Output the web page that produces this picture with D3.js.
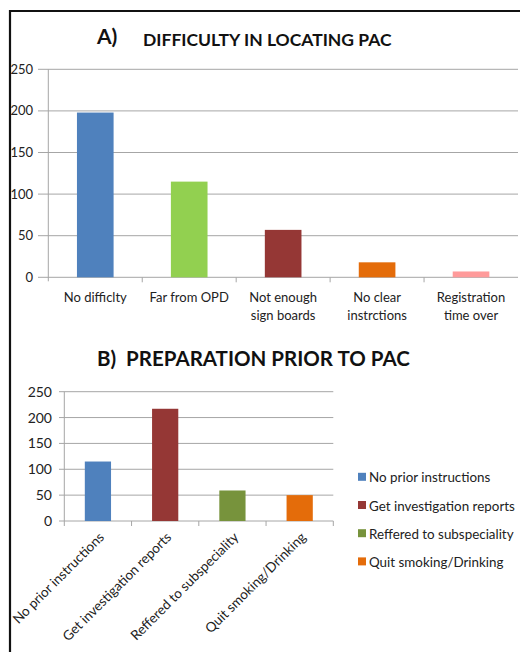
<!DOCTYPE html>
<html><head><meta charset="utf-8">
<script src="https://cdn.jsdelivr.net/npm/d3@7"></script>
<style>
body{margin:0;background:#fff;}
text{font-family:Lato,"Open Sans",sans-serif;white-space:pre;}
</style></head>
<body>
<svg id="c" width="520" height="652"></svg>
<script>
const catsA = [["No difficlty"],["Far from OPD"],["Not enough","sign boards"],["No clear","instrctions"],["Registration","time over"]];
const valsA = [198, 115, 57, 18, 7];
const colorsA = ["#4F81BD","#92D050","#953735","#E46C0A","#FF9B9B"];
const ticksA = [0,50,100,150,200,250];

const catsB = ["No prior instructions","Get investigation reports","Reffered to subspeciality","Quit smoking/Drinking"];
const valsB = [115, 217, 59, 50];
const colorsB = ["#4F81BD","#953735","#77933C","#E46C0A"];
const ticksB = [0,50,100,150,200,250];

const svg = d3.select("#c");

// frame
svg.append("path").attr("d","M10,660 L10,11 L530,11").attr("fill","none").attr("stroke","#111").attr("stroke-width",2.2);

// ---------- Chart A ----------
const xA = d3.scaleBand().domain(d3.range(catsA.length)).range([48.3,518]).paddingInner(0.61).paddingOuter(0.305);
const xAo = d3.scaleBand().domain(d3.range(catsA.length)).range([48.3,518]);
const yA = d3.scaleLinear().domain([0,250]).range([277.3,69.3]);

const gA = svg.append("g");
gA.selectAll("line.grid").data(ticksA).join("line")
  .attr("x1",38).attr("x2",518).attr("y1",d=>yA(d)).attr("y2",d=>yA(d))
  .attr("stroke","#a6a6a6").attr("stroke-width",1);
gA.append("line").attr("x1",48.3).attr("x2",48.3).attr("y1",yA(250)).attr("y2",yA(0)+4).attr("stroke","#a6a6a6");
gA.selectAll("line.xt").data(d3.range(1,catsA.length)).join("line")
  .attr("x1",d=>xAo(d)).attr("x2",d=>xAo(d)).attr("y1",yA(0)).attr("y2",yA(0)+5).attr("stroke","#a6a6a6");
gA.selectAll("text.yt").data(ticksA).join("text")
  .attr("x",33).attr("y",d=>yA(d)+4.5).attr("text-anchor","end")
  .attr("font-size",13).attr("fill","#222").text(d=>d);
gA.selectAll("rect").data(valsA).join("rect")
  .attr("x",(d,i)=>xA(i)).attr("width",xA.bandwidth())
  .attr("y",d=>yA(d)).attr("height",d=>yA(0)-yA(d))
  .attr("fill",(d,i)=>colorsA[i]);
const lblA = gA.selectAll("text.xl").data(catsA).join("text")
  .attr("text-anchor","middle").attr("font-size",13).attr("fill","#222");
lblA.selectAll("tspan").data((d,i)=>d.map(s=>({s,i}))).join("tspan")
  .attr("x",d=>xAo(d.i)+xAo.bandwidth()/2).attr("dy",(d,j)=>j===0?0:17.5)
  .text(d=>d.s);
lblA.attr("y",302);

svg.append("text").attr("x",97).attr("y",44).attr("font-size",21).attr("font-weight","bold").attr("fill","#111").text("A)");
svg.append("text").attr("x",143).attr("y",46).attr("font-size",17.5).attr("font-weight","bold").attr("fill","#111").text("DIFFICULTY IN LOCATING PAC");

// ---------- Chart B ----------
const xB = d3.scaleBand().domain(d3.range(catsB.length)).range([64.3,333.3]).paddingInner(0.61).paddingOuter(0.305);
const xBo = d3.scaleBand().domain(d3.range(catsB.length)).range([64.3,333.3]);
const yB = d3.scaleLinear().domain([0,250]).range([521,391.7]);

const gB = svg.append("g");
gB.selectAll("line.grid").data(ticksB).join("line")
  .attr("x1",59).attr("x2",333.3).attr("y1",d=>yB(d)).attr("y2",d=>yB(d))
  .attr("stroke","#a6a6a6");
gB.append("line").attr("x1",64.3).attr("x2",64.3).attr("y1",yB(250)).attr("y2",yB(0)+5).attr("stroke","#a6a6a6");
gB.selectAll("line.xt").data(d3.range(1,catsB.length+1)).join("line")
  .attr("x1",d=>d<catsB.length?xBo(d):333.3).attr("x2",d=>d<catsB.length?xBo(d):333.3)
  .attr("y1",yB(0)).attr("y2",yB(0)+5).attr("stroke","#a6a6a6");
gB.selectAll("text.yt").data(ticksB).join("text")
  .attr("x",52).attr("y",d=>yB(d)+5).attr("text-anchor","end")
  .attr("font-size",14).attr("fill","#222").text(d=>d);
gB.selectAll("rect").data(valsB).join("rect")
  .attr("x",(d,i)=>xB(i)).attr("width",xB.bandwidth())
  .attr("y",d=>yB(d)).attr("height",d=>yB(0)-yB(d))
  .attr("fill",(d,i)=>colorsB[i]);
gB.selectAll("text.xl").data(catsB).join("text")
  .attr("text-anchor","end").attr("font-size",13.5).attr("fill","#222")
  .attr("transform",(d,i)=>`translate(${xBo(i)+xBo.bandwidth()/2+7},${yB(0)+17}) rotate(-45)`)
  .text(d=>d);

// legend
const lg = svg.append("g");
catsB.forEach((c,i)=>{
  const cy = 477.3 + i*28.2;
  lg.append("rect").attr("x",358).attr("y",cy-4.5).attr("width",8).attr("height",8).attr("fill",colorsB[i]);
  lg.append("text").attr("x",369).attr("y",cy+5).attr("font-size",13.4).attr("fill","#222").text(c);
});

svg.append("text").attr("x",97).attr("y",366).attr("font-size",20.5).attr("font-weight","bold").attr("fill","#111").text("B)  PREPARATION PRIOR TO PAC");
</script>
</body></html>
